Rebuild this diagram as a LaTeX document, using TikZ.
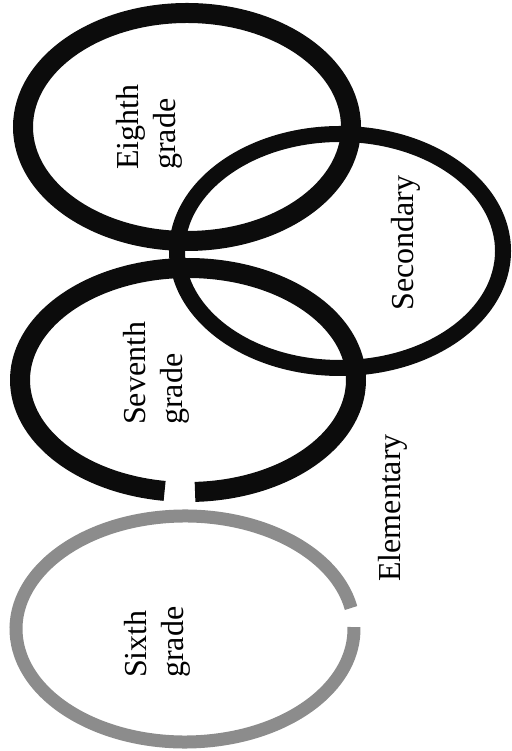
\documentclass[tikz,border=0pt]{standalone}
\usepackage{fontspec}
\setmainfont{Liberation Serif}
\usepackage{tikz}
\usetikzlibrary{calc}
\definecolor{ringcolor}{RGB}{12,12,12}
\definecolor{faintcolor}{RGB}{140,140,140}

\begin{document}
\begin{tikzpicture}[x=1pt, y=1pt,
  ring/.style  = {draw=ringcolor, line width=20pt, line cap=butt},
  faint/.style = {draw=faintcolor, line width=13pt, line cap=butt},
  lbl/.style   = {rotate=90, font=\fontsize{32}{37}\selectfont,
                  align=left, inner sep=0pt}
]
\useasboundingbox (0,0) rectangle (511,751);

\coordinate (c6) at (185,122);
\coordinate (c7) at (188,371);
\coordinate (c8) at (187,624);
\coordinate (cs) at (340,500);

% sixth grade, light and open on the right
\draw[faint] ($(c6)+(10.7:169 and 113)$)
  arc[start angle=10.7, end angle=361, x radius=169, y radius=113];

% seventh grade, open at the bottom
\draw[ring] ($(c7)+(272.4:168 and 112)$)
  arc[start angle=272.4, end angle=622, x radius=168, y radius=112];

\draw[ring] (c8) ellipse[x radius=164, y radius=114];
\draw[ring, line width=16pt] (cs) ellipse[x radius=163, y radius=117];

\node[lbl, anchor=west] (eighth)  at (149,581) {Eighth\\grade};
\node[lbl, anchor=west] (seventh) at (156,326) {Seventh\\grade};
\node[lbl, anchor=west] (sixth)   at (157,73)  {Sixth\\grade};
\node[lbl] (secondary)  at (406,508) {Secondary};
\node[lbl] (elementary) at (393,243) {Elementary};
\end{tikzpicture}
\end{document}
